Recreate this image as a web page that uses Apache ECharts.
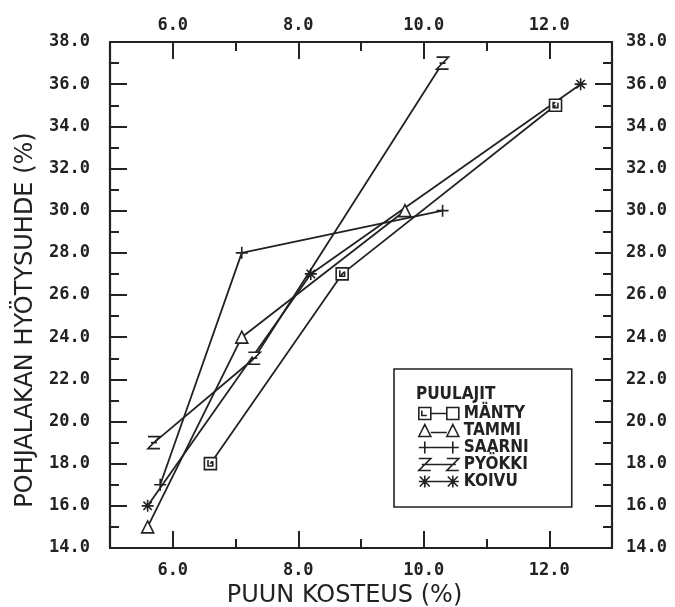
<!DOCTYPE html>
<html>
<head>
<meta charset="utf-8">
<script src="https://cdn.jsdelivr.net/npm/echarts@6/dist/echarts.min.js"></script>
<style>
html, body { margin: 0; padding: 0; background: #fff; }
#chart { width: 675px; height: 607px; }
</style>
</head>
<body>
<div id="chart"></div>
<script>
// puulajit (wood species) and their measured points
const speciesNames = ['MÄNTY', 'TAMMI', 'SAARNI', 'PYÖKKI', 'KOIVU'];

const mantyX = [6.6, 8.7, 12.1];
const mantyY = [18, 27, 35];
const tammiX = [5.6, 7.1, 9.7];
const tammiY = [15, 24, 30];
const saarniX = [5.8, 7.1, 10.3];
const saarniY = [17, 28, 30];
const pyokkiX = [5.7, 7.3, 10.3];
const pyokkiY = [19, 23, 37];
const koivuX = [5.6, 8.2, 12.5];
const koivuY = [16, 27, 36];

// tick positions
const xMajorTicks = [6, 8, 10, 12];
const xMinorTicks = [7, 9, 11];

const ink = '#222';
const tickFont = { fontFamily: 'DejaVu Sans Mono', fontWeight: 'bold', fontSize: 17, color: ink };
const nameFont = { fontFamily: 'DejaVu Sans', fontSize: 24, color: ink };
const legendFont = { fontFamily: 'DejaVu Sans Condensed', fontWeight: 'bold', fontSize: 17, color: ink };

const symbols = {
    'MÄNTY': 'path://M0,0 L10,0 L10,10 L0,10 Z M3,2 L3,7 L7,7 L7,3',
    'TAMMI': 'triangle',
    'SAARNI': 'path://M0,5 L10,5 M5,0 L5,10',
    'PYÖKKI': 'path://M1,0 L9,0 L1,10 L9,10 M3,5 L7,5',
    'KOIVU': 'path://M0,5 L10,5 M5,0 L5,10 M1.5,1.5 L8.5,8.5 M8.5,1.5 L1.5,8.5'
};
const legendIcons = {
    'MÄNTY': 'path://M0,0 L12,0 L12,12 L0,12 Z M3,3 L3,8 L8,8 M28,0 L40,0 L40,12 L28,12 Z M12,6 L28,6',
    'TAMMI': 'path://M0,12 L6,0 L12,12 Z M28,12 L34,0 L40,12 Z M12,8 L28,8',
    'SAARNI': 'path://M0,6 L40,6 M6,0 L6,12 M34,0 L34,12',
    'PYÖKKI': 'path://M0,0 L12,0 L0,12 L12,12 M28,0 L40,0 L28,12 L40,12 M3,6 L37,6',
    'KOIVU': 'path://M0,6 L40,6 M6,0 L6,12 M1,1 L11,11 M11,1 L1,11 M34,0 L34,12 M29,1 L39,11 M39,1 L29,11'
};

function pairs(xs, ys) {
    return xs.map((x, i) => [x, ys[i]]);
}

const seriesData = {
    'MÄNTY': pairs(mantyX, mantyY),
    'TAMMI': pairs(tammiX, tammiY),
    'SAARNI': pairs(saarniX, saarniY),
    'PYÖKKI': pairs(pyokkiX, pyokkiY),
    'KOIVU': pairs(koivuX, koivuY)
};

function xAxisFor(position, ticks, len, withLabels, name) {
    return {
        type: 'value',
        position: position,
        min: 5,
        max: 13,
        name: name || '',
        nameLocation: 'middle',
        nameGap: 36,
        nameTextStyle: { ...nameFont, padding: [0, 33, 0, 0] },
        axisLine: { show: withLabels, onZero: false, lineStyle: { color: ink, width: 2.2 } },
        axisTick: { show: true, inside: true, length: len, customValues: ticks, lineStyle: { color: ink, width: 2 } },
        axisLabel: { show: withLabels, customValues: ticks, margin: position === 'top' ? 8 : 14, formatter: v => v.toFixed(1), ...tickFont },
        splitLine: { show: false }
    };
}

function yAxisFor(position, name) {
    return {
        type: 'value',
        position: position,
        min: 14,
        max: 38,
        interval: 2,
        name: name || '',
        nameLocation: 'middle',
        nameGap: 72,
        nameTextStyle: { ...nameFont, padding: [0, 50, 0, 0] },
        axisLine: { show: true, onZero: false, lineStyle: { color: ink, width: 2.2 } },
        axisTick: { show: true, inside: true, length: 17, lineStyle: { color: ink, width: 2 } },
        minorTick: { show: true, splitNumber: 2, length: 9, lineStyle: { color: ink, width: 2 } },
        axisLabel: { margin: position === 'left' ? 20 : 14, formatter: v => v.toFixed(1), ...tickFont },
        splitLine: { show: false }
    };
}

const chart = echarts.init(document.getElementById('chart'));

const option = {
    animation: false,
    backgroundColor: '#fff',
    grid: { left: 110, right: 63, top: 42, bottom: 59, containLabel: false, outerBoundsMode: 'none' },
    title: {
        text: 'PUULAJIT',
        left: 416,
        top: 386,
        padding: 0,
        textStyle: legendFont
    },
    legend: {
        orient: 'vertical',
        left: 394,
        top: 369,
        padding: [36, 43, 17, 24],
        itemGap: 0,
        itemWidth: 40,
        itemHeight: 12,
        selectedMode: false,
        borderColor: ink,
        borderWidth: 1.6,
        textStyle: legendFont,
        itemStyle: { color: '#fff', borderColor: ink, borderWidth: 1.6 },
        data: speciesNames.map(n => ({ name: n, icon: legendIcons[n] }))
    },
    xAxis: [
        xAxisFor('bottom', xMajorTicks, 17, true, 'PUUN KOSTEUS (%)'),
        xAxisFor('bottom', xMinorTicks, 9, false),
        xAxisFor('top', xMajorTicks, 17, true),
        xAxisFor('top', xMinorTicks, 9, false)
    ],
    yAxis: [
        yAxisFor('left', 'POHJALAKAN HYÖTYSUHDE (%)'),
        yAxisFor('right')
    ],
    series: speciesNames.map(n => ({
        name: n,
        type: 'line',
        xAxisIndex: 0,
        yAxisIndex: 0,
        data: seriesData[n],
        symbol: symbols[n],
        symbolSize: 12,
        showAllSymbol: true,
        lineStyle: { color: ink, width: 1.8 },
        itemStyle: { color: '#fff', borderColor: ink, borderWidth: 1.6 },
        emphasis: { disabled: true }
    }))
};

chart.setOption(option);
</script>
</body>
</html>
